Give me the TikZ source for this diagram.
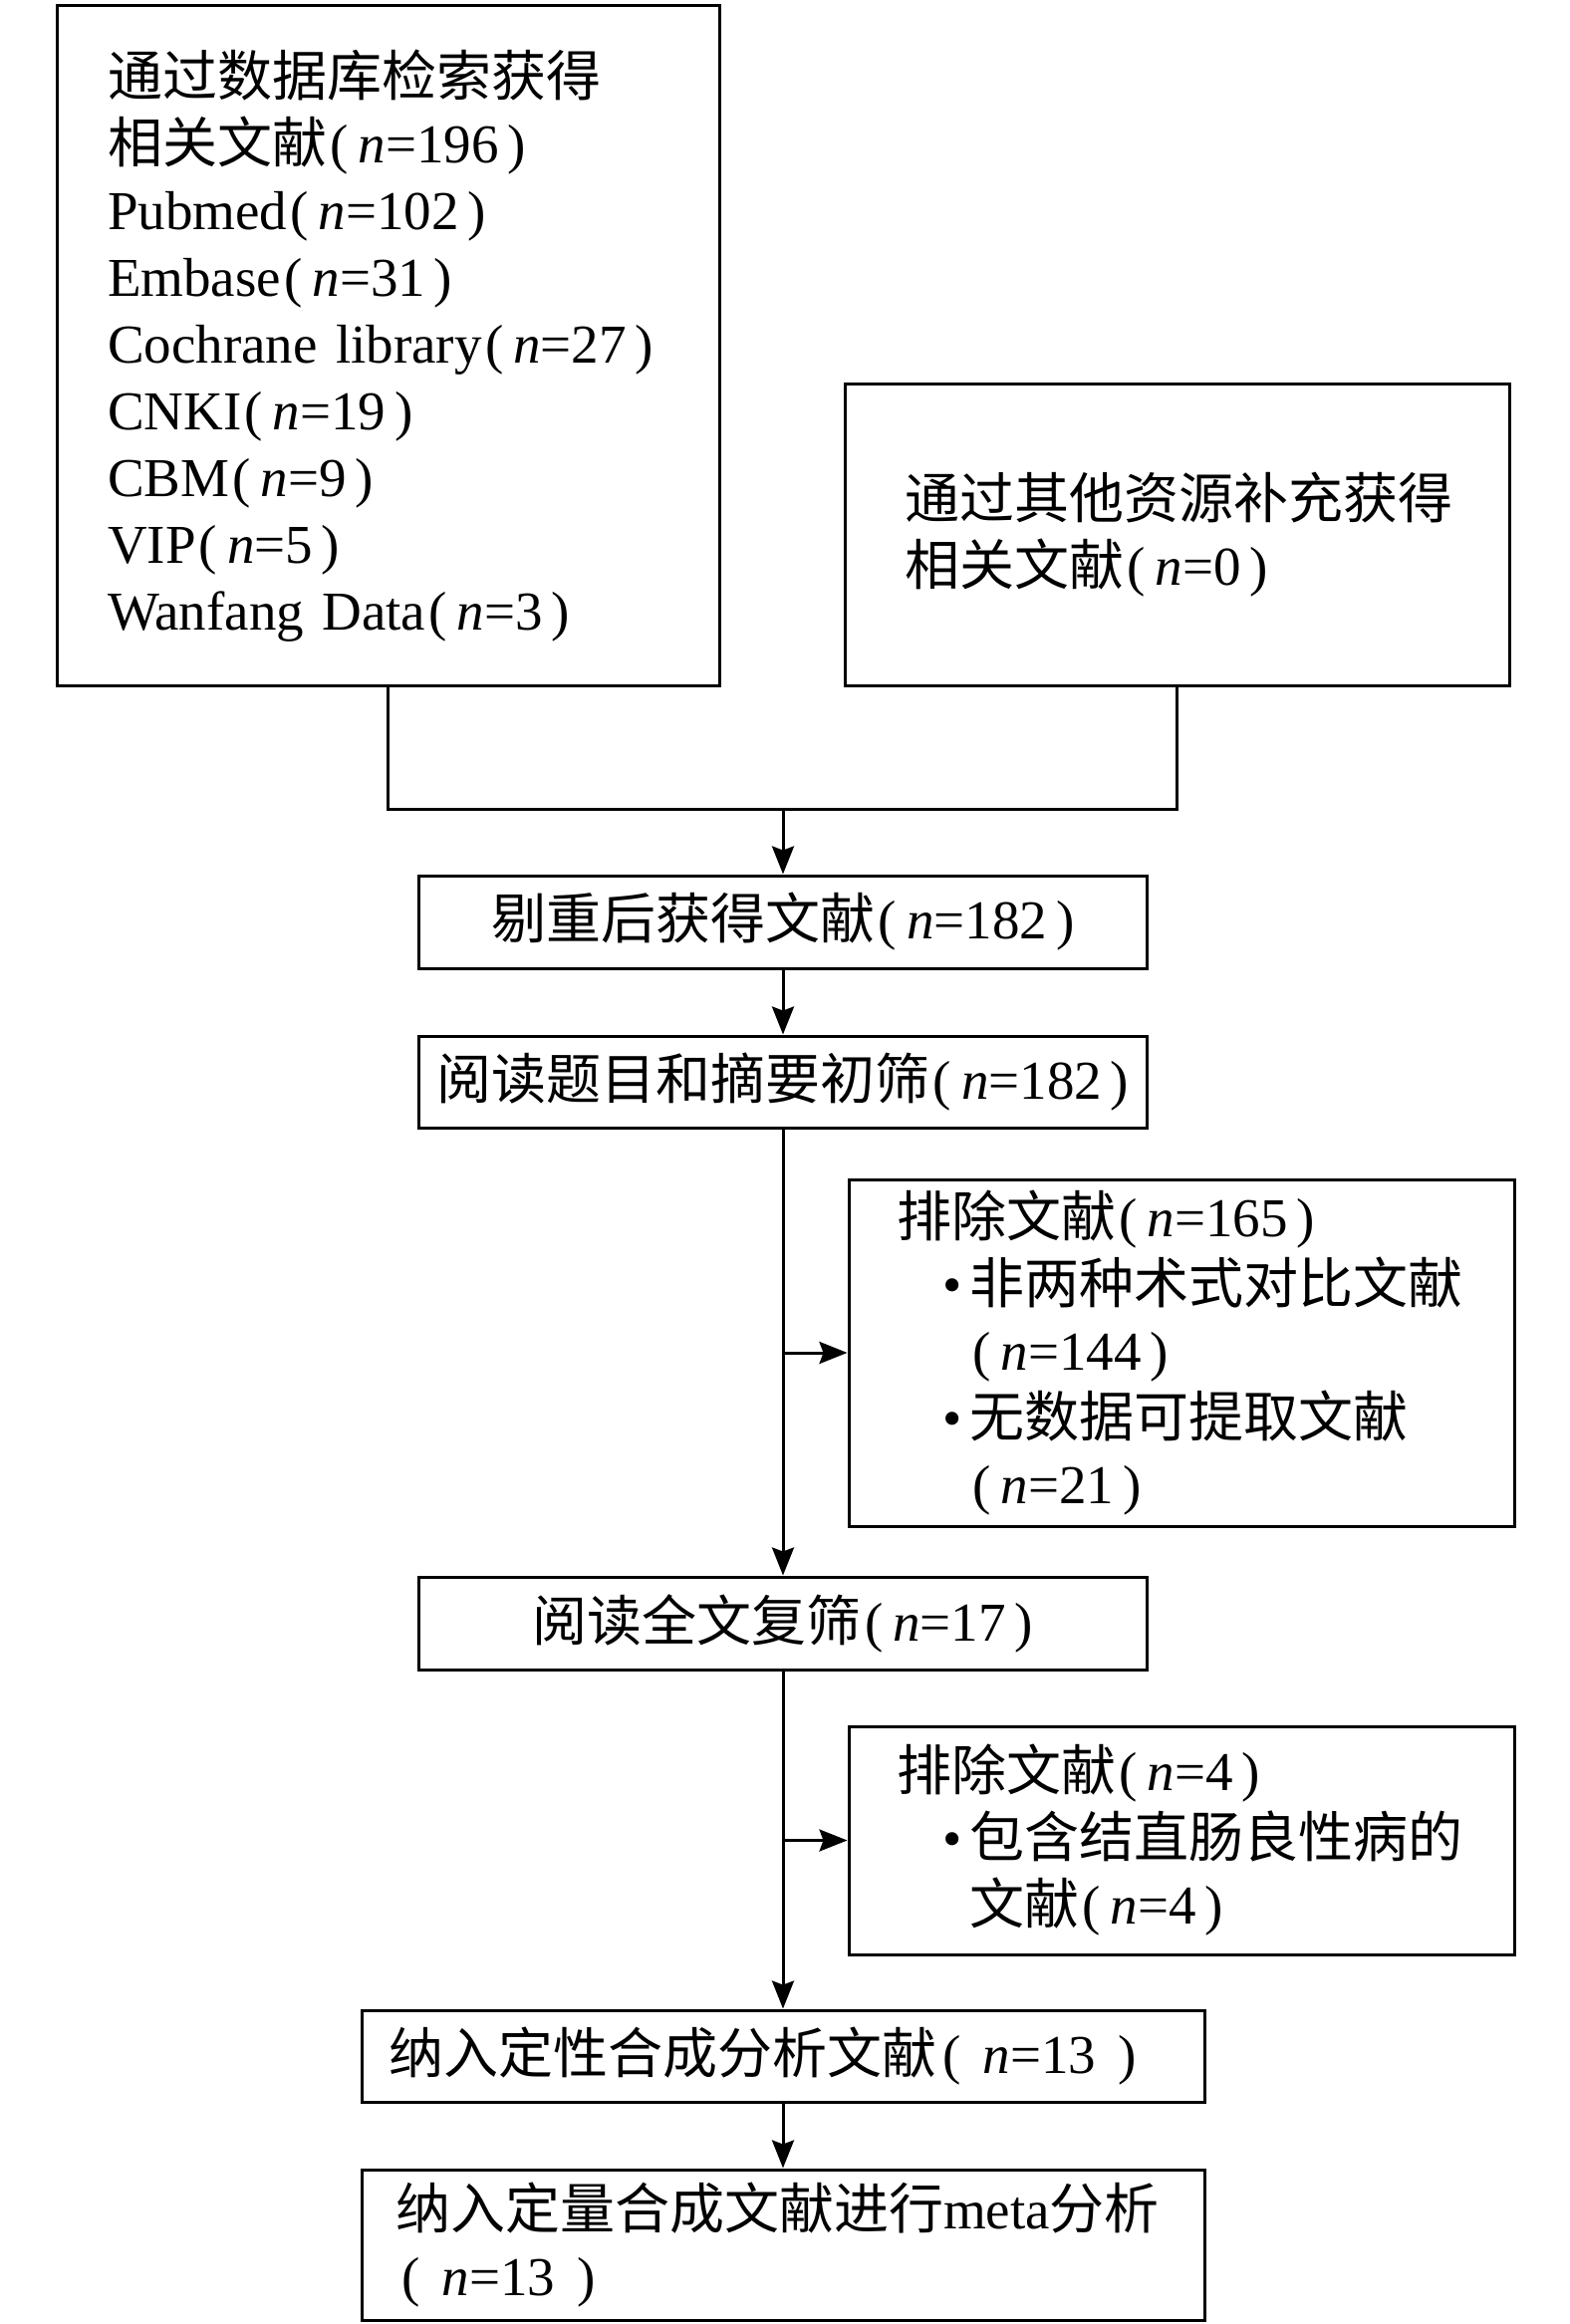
\documentclass[tikz,border=0pt]{standalone}
\usepackage{fontspec}
\setmainfont{Liberation Serif}
\newfontfamily\cjk{Noto Sans CJK SC}
\usetikzlibrary{arrows.meta}
\newcommand\zh[1]{{\cjk #1}}
\newcommand\nval[1]{\hspace{0.06em}(\hspace{0.18em}\textit{n}=#1\hspace{0.16em})\hspace{0.06em}}
\newcommand\nvalw[1]{\hspace{0.12em}(\hspace{0.4em}\textit{n}=#1\hspace{0.4em})\hspace{0.12em}}
\begin{document}
\begin{tikzpicture}[x=1pt,y=-1pt,
  boxs/.style={draw, line width=1.5pt, inner sep=0pt, align=left,
    font=\fontsize{27.5}{33.5}\selectfont},
  cbox/.style={boxs, align=center},
  ln/.style={line width=1.5pt},
  arr/.style={ln, -{Stealth[length=14pt,width=11pt,inset=2pt]}}]
\useasboundingbox (0,0) rectangle (787.5,1166.5);

\node[boxs, minimum width=332.5pt, minimum height=341pt, text width=281.5pt] (b1) at (194.75,173.5)
 {\zh{通过数据库检索获得}\\
  \zh{相关文献}\nval{196}\\
  Pubmed\nval{102}\\
  Embase\nval{31}\\
  Cochrane library\nval{27}\\
  CNKI\nval{19}\\
  CBM\nval{9}\\
  VIP\nval{5}\\
  Wanfang Data\nval{3}};

\node[boxs, minimum width=333.5pt, minimum height=151.5pt, text width=273.5pt] (b2) at (590.75,268.25)
 {\zh{通过其他资源补充获得}\\
  \zh{相关文献}\nval{0}};

\node[cbox, minimum width=365.5pt, minimum height=46.5pt, text width=360pt] (b3) at (393,462.75)
 {\zh{剔重后获得文献}\nval{182}};

\node[cbox, minimum width=365.5pt, minimum height=46pt, text width=360pt] (b4) at (393,543)
 {\zh{阅读题目和摘要初筛}\nval{182}};

\node[boxs, minimum width=334pt, minimum height=174pt, text width=286pt] (e1) at (593,679)
 {\zh{排除文献}\nval{165}\\
  \hspace*{23pt}•\hspace{4pt}\zh{非两种术式对比文献}\\
  \hspace*{23pt}\phantom{•}\hspace{4pt}\nval{144}\\
  \hspace*{23pt}•\hspace{4pt}\zh{无数据可提取文献}\\
  \hspace*{23pt}\phantom{•}\hspace{4pt}\nval{21}};

\node[cbox, minimum width=365.5pt, minimum height=46.5pt, text width=360pt] (b5) at (393,814.75)
 {\zh{阅读全文复筛}\nval{17}};

\node[boxs, minimum width=334pt, minimum height=114.5pt, text width=286pt] (e2) at (593,923.75)
 {\zh{排除文献}\nval{4}\\
  \hspace*{23pt}•\hspace{4pt}\zh{包含结直肠良性病的}\\
  \hspace*{23pt}\phantom{•}\hspace{4pt}\zh{文献}\nval{4}};

\node[boxs, minimum width=423pt, minimum height=46pt, text width=396pt] (b6) at (393,1032)
 {\zh{纳入定性合成分析文献}\nvalw{13}};

\node[boxs, minimum width=423pt, minimum height=75.5pt, text width=389pt] (b7) at (393,1126.75)
 {\zh{纳入定量合成文献进行}meta\zh{分析}\\
  \nvalw{13}};

\coordinate (mj) at (393,406);
\draw[ln] (b1.south) |- (mj) -| (b2.south);
\draw[arr] (mj) -- (b3.north);
\draw[arr] (b3.south) -- (b4.north);
\draw[arr] (b4.south) -- (b5.north);
\draw[arr] (b4.south |- e1.west) -- (e1.west);
\draw[arr] (b5.south) -- (b6.north);
\draw[arr] (b5.south |- e2.west) -- (e2.west);
\draw[arr] (b6.south) -- (b7.north);
\end{tikzpicture}
\end{document}
